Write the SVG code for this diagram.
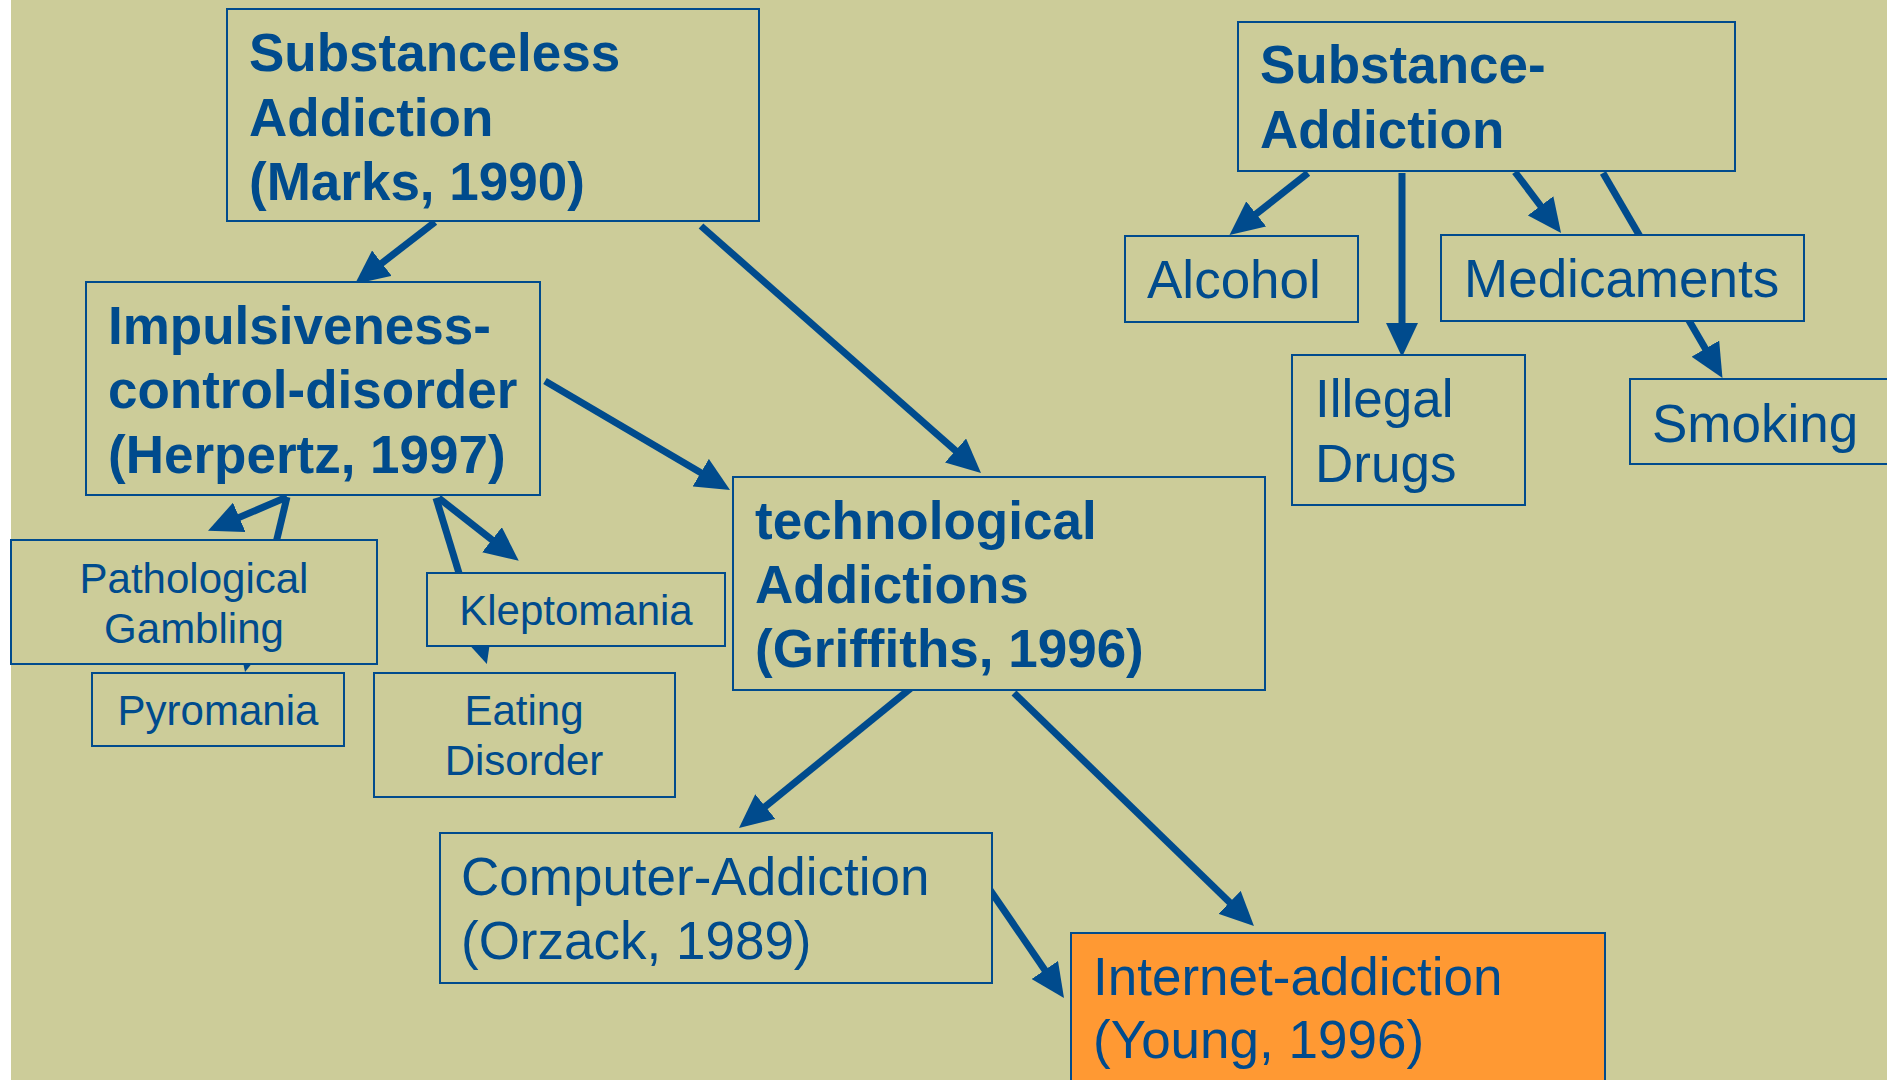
<svg xmlns="http://www.w3.org/2000/svg" width="1887" height="1080" viewBox="0 0 1887 1080">
<style>
.box{fill:#CCCC99;stroke:#004B8D;stroke-width:2}
.hot{fill:#FF9933;stroke:#004B8D;stroke-width:2}
.big{font-family:"Liberation Sans",Arial,sans-serif;font-size:53px;fill:#004B8D}
.b{font-weight:bold}
.small{font-family:"Liberation Sans",Arial,sans-serif;font-size:42px;fill:#004B8D;text-anchor:middle}
.conn line{stroke:#004B8D;stroke-width:7;marker-end:url(#ah)}
</style>
<defs>
<marker id="ah" markerUnits="userSpaceOnUse" markerWidth="34" markerHeight="32" refX="14" refY="16" orient="auto">
<path d="M0,0 L34,16 L0,32 z" fill="#004B8D"/>
</marker>
</defs>
<rect x="0" y="0" width="1887" height="1080" fill="#FFFFFF"/>
<rect x="11" y="0" width="1876" height="1080" fill="#CCCC99"/>
<g id="connectors" class="conn">
<line x1="435" y1="222" x2="370.8" y2="271.7"/>
<line x1="701" y1="226" x2="966" y2="459.8"/>
<line x1="545" y1="381" x2="712.8" y2="479.8"/>
<line x1="911" y1="688" x2="754.5" y2="815.4"/>
<line x1="1014" y1="693" x2="1239.6" y2="912.1"/>
<line x1="988" y1="887" x2="1052.7" y2="981.5"/>
<line x1="1308" y1="173" x2="1245.2" y2="222.6"/>
<line x1="1402" y1="173" x2="1402" y2="337"/>
<line x1="1515" y1="172" x2="1549" y2="217"/>
<line x1="1603" y1="173" x2="1712.4" y2="360.7"/>
<line x1="287" y1="497" x2="226.4" y2="522.9"/>
<line x1="287" y1="497" x2="249.7" y2="652.6"/>
<line x1="438.7" y1="498" x2="503" y2="548.4"/>
<line x1="436" y1="498" x2="481" y2="645"/>
</g>
<g id="n-substanceless">
<rect class="box" x="227" y="9" width="532" height="212"/>
<text class="big b" x="249" y="71">Substanceless</text>
<text class="big b" x="249" y="135.5">Addiction</text>
<text class="big b" x="249" y="200">(Marks, 1990)</text>
</g>
<g id="n-impulsiveness">
<rect class="box" x="86" y="282" width="454" height="213"/>
<text class="big b" x="108" y="344">Impulsiveness-</text>
<text class="big b" x="108" y="408">control-disorder</text>
<text class="big b" x="108" y="473">(Herpertz, 1997)</text>
</g>
<g id="n-technological">
<rect class="box" x="733" y="477" width="532" height="213"/>
<text class="big b" x="755" y="539">technological</text>
<text class="big b" x="755" y="603">Addictions</text>
<text class="big b" x="755" y="667">(Griffiths, 1996)</text>
</g>
<g id="n-substance">
<rect class="box" x="1238" y="22" width="497" height="149"/>
<text class="big b" x="1260" y="83">Substance-</text>
<text class="big b" x="1260" y="148">Addiction</text>
</g>
<g id="n-alcohol">
<rect class="box" x="1125" y="236" width="233" height="86"/>
<text class="big" x="1147" y="298">Alcohol</text>
</g>
<g id="n-illegal">
<rect class="box" x="1292" y="355" width="233" height="150"/>
<text class="big" x="1315" y="417">Illegal</text>
<text class="big" x="1315" y="482">Drugs</text>
</g>
<g id="n-medicaments">
<rect class="box" x="1441" y="235" width="363" height="86"/>
<text class="big" x="1464" y="297">Medicaments</text>
</g>
<g id="n-smoking">
<rect class="box" x="1630" y="379" width="270" height="85"/>
<text class="big" x="1652" y="442">Smoking</text>
</g>
<g id="n-pathological">
<rect class="box" x="11" y="540" width="366" height="124"/>
<text class="small" x="194" y="593">Pathological</text>
<text class="small" x="194" y="643">Gambling</text>
</g>
<g id="n-kleptomania">
<rect class="box" x="427" y="573" width="298" height="73"/>
<text class="small" x="576" y="625">Kleptomania</text>
</g>
<g id="n-pyromania">
<rect class="box" x="92" y="673" width="252" height="73"/>
<text class="small" x="218" y="725">Pyromania</text>
</g>
<g id="n-eating">
<rect class="box" x="374" y="673" width="301" height="124"/>
<text class="small" x="524" y="725">Eating</text>
<text class="small" x="524" y="775">Disorder</text>
</g>
<g id="n-computer">
<rect class="box" x="440" y="833" width="552" height="150"/>
<text class="big" x="461" y="895">Computer-Addiction</text>
<text class="big" x="461" y="959">(Orzack, 1989)</text>
</g>
<g id="n-internet">
<rect class="hot" x="1071" y="933" width="534" height="160"/>
<text class="big" x="1093" y="995">Internet-addiction</text>
<text class="big" x="1093" y="1058">(Young, 1996)</text>
</g>
</svg>
